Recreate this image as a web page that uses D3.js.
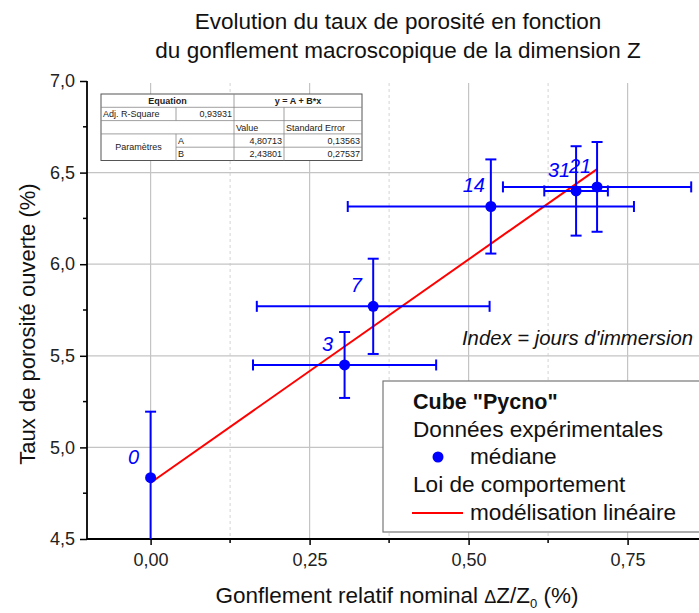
<!DOCTYPE html>
<html><head><meta charset="utf-8">
<script src="https://cdn.jsdelivr.net/npm/d3@7"></script>
<style>
html,body{margin:0;padding:0;background:#fff;}
svg{display:block;font-family:"Liberation Sans",Arial,sans-serif;}
</style></head>
<body>
<svg id="chart" width="699" height="613"></svg>
<script>
// ---- data ----
const pointLabels = ["0", "3", "7", "14", "31", "21"];
const xValues = [0, 0.305, 0.35, 0.535, 0.669, 0.702];
const yValues = [4.835, 5.45, 5.77, 6.315, 6.40, 6.422];
const xErrors = [0, 0.144, 0.183, 0.225, 0.05, 0.148];
const yErrors = [0.36, 0.18, 0.26, 0.257, 0.244, 0.245];
const fitA = 4.80713, fitB = 2.43801;
const xTicks = [0, 0.25, 0.5, 0.75];
const xTickLabels = ["0,00", "0,25", "0,50", "0,75"];
const xMinorTicks = [-0.125, 0.125, 0.375, 0.625, 0.875];
const yTicks = [4.5, 5.0, 5.5, 6.0, 6.5, 7.0];
const yTickLabels = ["4,5", "5,0", "5,5", "6,0", "6,5", "7,0"];
const yMinorTicks = [4.75, 5.25, 5.75, 6.25, 6.75];
const titleLines = ["Evolution du taux de porosité en fonction", "du gonflement macroscopique de la dimension Z"];
const tableRows = [
  ["Adj. R-Square", "0,93931"],
  ["A", "4,80713", "0,13563"],
  ["B", "2,43801", "0,27537"]
];
const legendTexts = ['Cube "Pycno"', "Données expérimentales", "médiane", "Loi de comportement", "modélisation linéaire"];

// ---- layout ----
const svg = d3.select("#chart");
const L = 87, T = 81, B = 539, R = 723;
const x = d3.scaleLinear().domain([-0.1, 0.9]).range([L, R]);
const y = d3.scaleLinear().domain([4.5, 7.0]).range([B, T]);

svg.append("defs").append("clipPath").attr("id", "plotclip")
  .append("rect").attr("x", L).attr("y", T).attr("width", R - L).attr("height", B - T);

// grid
const grid = svg.append("g");
grid.selectAll(".gx").data(xTicks).join("line")
  .attr("x1", d => x(d)).attr("x2", d => x(d)).attr("y1", T + 2).attr("y2", B)
  .attr("stroke", "#c4c4c4").attr("stroke-width", 1.2);
grid.selectAll(".gxm").data(xMinorTicks.filter(d => d > -0.1)).join("line")
  .attr("x1", d => x(d)).attr("x2", d => x(d)).attr("y1", T + 2).attr("y2", B)
  .attr("stroke", "#d4d4d4").attr("stroke-width", 1).attr("stroke-dasharray", "3,3");
grid.selectAll(".gy").data(yTicks.filter(d => d > 4.5 && d < 7)).join("line")
  .attr("x1", L).attr("x2", R).attr("y1", d => y(d)).attr("y2", d => y(d))
  .attr("stroke", "#c4c4c4").attr("stroke-width", 1.2);

// axes
const xAxis = d3.axisBottom(x).tickValues(xTicks).tickFormat((d, i) => xTickLabels[i]).tickSize(6).tickPadding(8);
const gx = svg.append("g").attr("transform", `translate(0,${B})`).call(xAxis);
gx.append("g").selectAll("line").data(xMinorTicks.filter(d => d > -0.1)).join("line")
  .attr("x1", d => x(d)).attr("x2", d => x(d)).attr("y1", 0).attr("y2", 4).attr("stroke", "#000").attr("stroke-width", 1.5);
const yAxis = d3.axisLeft(y).tickValues(yTicks).tickFormat((d, i) => yTickLabels[i]).tickSize(7).tickPadding(5);
const gy = svg.append("g").attr("transform", `translate(${L},0)`).call(yAxis);
gy.append("g").selectAll("line").data(yMinorTicks).join("line")
  .attr("x1", -4).attr("x2", 0).attr("y1", d => y(d)).attr("y2", d => y(d)).attr("stroke", "#000").attr("stroke-width", 1.5);
[gx, gy].forEach(g => {
  g.select(".domain").attr("stroke", "#000").attr("stroke-width", 1.8);
  g.selectAll(".tick line").attr("stroke", "#000").attr("stroke-width", 1.5);
  g.selectAll(".tick text").attr("font-size", 18).attr("fill", "#222").attr("font-family", "Liberation Sans, Arial, sans-serif");
});
gx.select(".domain").attr("d", `M${L},0H${R}`);
gy.select(".domain").attr("d", `M0,${B}V${T}`);

// fit line
const plot = svg.append("g").attr("clip-path", "url(#plotclip)");
const xMax = d3.max(xValues);
plot.append("line")
  .attr("x1", x(0)).attr("y1", y(fitA)).attr("x2", x(xMax)).attr("y2", y(fitA + fitB * xMax))
  .attr("stroke", "#ff0000").attr("stroke-width", 2);

// error bars
const blue = "#0000ff";
const cap = 5.5;
xValues.forEach((xv, i) => {
  const yv = yValues[i], ex = xErrors[i], ey = yErrors[i];
  const g = plot.append("g").attr("stroke", blue).attr("stroke-width", 2);
  g.append("line").attr("x1", x(xv)).attr("x2", x(xv)).attr("y1", y(yv - ey)).attr("y2", y(yv + ey));
  g.append("line").attr("x1", x(xv) - cap).attr("x2", x(xv) + cap).attr("y1", y(yv + ey)).attr("y2", y(yv + ey));
  if (yv - ey > 4.5) g.append("line").attr("x1", x(xv) - cap).attr("x2", x(xv) + cap).attr("y1", y(yv - ey)).attr("y2", y(yv - ey));
  if (ex > 0) {
    g.append("line").attr("x1", x(xv - ex)).attr("x2", x(xv + ex)).attr("y1", y(yv)).attr("y2", y(yv));
    [xv - ex, xv + ex].forEach(e => g.append("line").attr("x1", x(e)).attr("x2", x(e)).attr("y1", y(yv) - cap).attr("y2", y(yv) + cap));
  }
});
// points
plot.selectAll("circle.pt").data(xValues).join("circle")
  .attr("cx", d => x(d)).attr("cy", (d, i) => y(yValues[i])).attr("r", 5.5).attr("fill", blue);
// point labels
svg.selectAll("text.pl").data(pointLabels).join("text")
  .attr("x", (d, i) => x(xValues[i]) - 17).attr("y", (d, i) => y(yValues[i]) - 14)
  .attr("text-anchor", "middle").attr("font-size", 20).attr("font-style", "italic").attr("fill", blue)
  .text(d => d);

// annotation
svg.append("text").attr("x", 693).attr("y", 345).attr("text-anchor", "end")
  .attr("font-size", 20.3).attr("font-style", "italic").attr("fill", "#111").text("Index = jours d'immersion");

// table
const tb = svg.append("g").attr("font-size", 9).attr("fill", "#222");
const cols = [101, 176, 234, 284, 362];
const rh = 13.3, ty = 94;
const rows = [ty, ty + rh, ty + 2 * rh, ty + 3 * rh, ty + 4 * rh, ty + 5 * rh];
tb.append("rect").attr("x", cols[0]).attr("y", rows[0]).attr("width", cols[4] - cols[0]).attr("height", rows[5] - rows[0])
  .attr("fill", "#fff").attr("stroke", "#555").attr("stroke-width", 1);
const lc = "#888";
const hl = (x1, x2, yy) => tb.append("line").attr("x1", x1).attr("x2", x2).attr("y1", yy).attr("y2", yy).attr("stroke", lc).attr("stroke-width", 0.8);
const vl = (xx, y1, y2) => tb.append("line").attr("x1", xx).attr("x2", xx).attr("y1", y1).attr("y2", y2).attr("stroke", lc).attr("stroke-width", 0.8);
hl(cols[0], cols[4], rows[1]); hl(cols[0], cols[4], rows[2]); hl(cols[0], cols[4], rows[3]); hl(cols[1], cols[4], rows[4]);
vl(cols[2], rows[0], rows[5]); vl(cols[1], rows[1], rows[2]); vl(cols[1], rows[3], rows[5]); vl(cols[3], rows[1], rows[5]);
const tt = (xx, row, s, anchor, bold) => tb.append("text").attr("x", xx).attr("y", rows[row] + 10)
  .attr("text-anchor", anchor || "start").attr("font-weight", bold ? "bold" : "normal").text(s);
tt((cols[0] + cols[2]) / 2, 0, "Equation", "middle", true);
tt((cols[2] + cols[4]) / 2, 0, "y = A + B*x", "middle", true);
tt(cols[0] + 2, 1, tableRows[0][0]); tt(cols[2] - 2, 1, tableRows[0][1], "end");
tt(cols[2] + 2, 2, "Value"); tt(cols[3] + 2, 2, "Standard Error");
tb.append("text").attr("x", (cols[0] + cols[1]) / 2).attr("y", rows[4] + 3).attr("text-anchor", "middle").text("Paramètres");
[1, 2].forEach(k => {
  tt(cols[1] + 2, 2 + k, tableRows[k][0]);
  tt(cols[3] - 2, 2 + k, tableRows[k][1], "end");
  tt(cols[4] - 2, 2 + k, tableRows[k][2], "end");
});

// legend
const lg = svg.append("g").attr("font-size", 22.6).attr("fill", "#111");
lg.append("rect").attr("x", 383).attr("y", 381).attr("width", 330).attr("height", 151)
  .attr("fill", "#fff").attr("stroke", "#777").attr("stroke-width", 1.2);
lg.append("text").attr("x", 413).attr("y", 409).attr("font-weight", "bold").attr("font-size", 21.5).text(legendTexts[0]);
lg.append("text").attr("x", 413).attr("y", 437).text(legendTexts[1]);
lg.append("circle").attr("cx", 438).attr("cy", 457).attr("r", 5.5).attr("fill", blue);
lg.append("text").attr("x", 470).attr("y", 464).text(legendTexts[2]);
lg.append("text").attr("x", 413).attr("y", 492).text(legendTexts[3]);
lg.append("line").attr("x1", 412).attr("x2", 463).attr("y1", 513).attr("y2", 513).attr("stroke", "#ff0000").attr("stroke-width", 2);
lg.append("text").attr("x", 470).attr("y", 520).text(legendTexts[4]);

// title
svg.append("g").selectAll("text").data(titleLines).join("text")
  .attr("x", 398).attr("y", (d, i) => 29 + i * 29).attr("text-anchor", "middle")
  .attr("font-size", 22.5).attr("fill", "#111").text(d => d);

// axis titles
const xt = svg.append("text").attr("x", 397).attr("y", 603).attr("text-anchor", "middle").attr("font-size", 22.5).attr("fill", "#111");
xt.append("tspan").text("Gonflement relatif nominal ");
xt.append("tspan").attr("font-size", 18).text("Δ");
xt.append("tspan").text("Z/Z");
xt.append("tspan").attr("font-size", 13).attr("dy", 5).text("0");
xt.append("tspan").attr("dy", -5).text(" (%)");
svg.append("text").attr("transform", `translate(35,324) rotate(-90)`).attr("text-anchor", "middle")
  .attr("font-size", 22).attr("fill", "#111").text("Taux de porosité ouverte (%)");
</script>
</body></html>
